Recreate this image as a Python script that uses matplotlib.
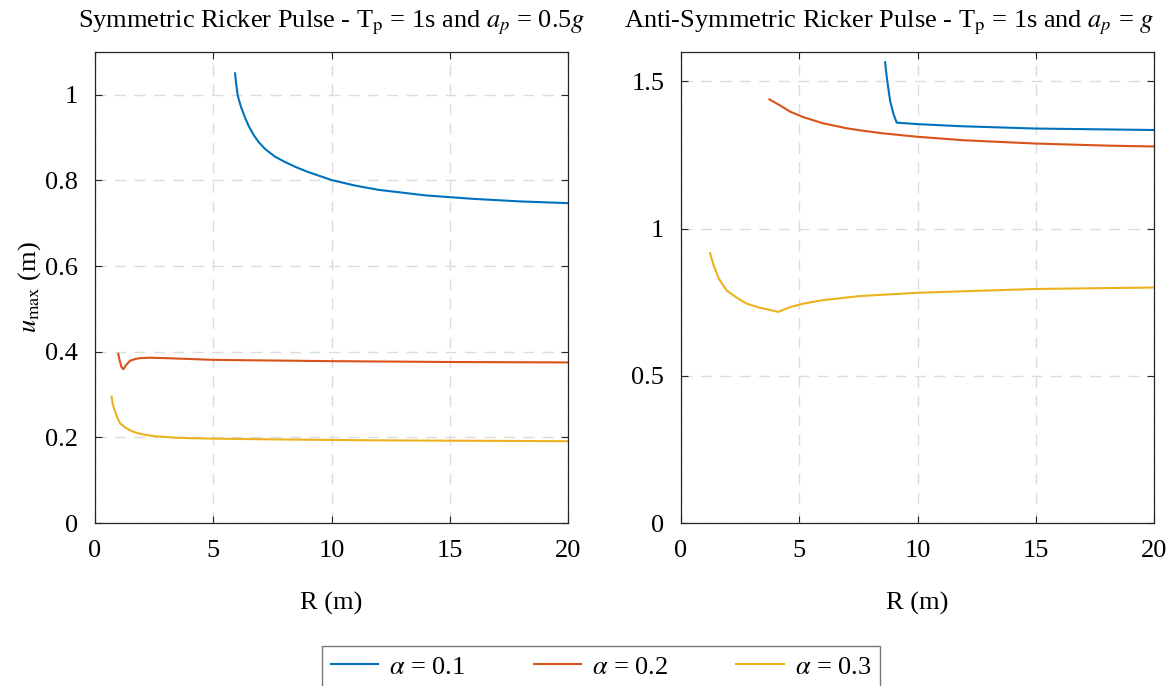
import matplotlib
matplotlib.use("Agg")
import matplotlib.pyplot as plt

plt.rcParams['font.family'] = ['Liberation Serif', 'DejaVu Serif']
plt.rcParams['mathtext.fontset'] = 'stix'

# ---- data ----
labels = [r'$\alpha$ = 0.1', r'$\alpha$ = 0.2', r'$\alpha$ = 0.3']
colors = ['#0072BD', '#D95319', '#EDB120']

# Left panel: symmetric pulse
sym_R1 = [5.92, 5.97, 6.03, 6.1, 6.2, 6.35, 6.5, 6.7, 6.9, 7.2, 7.6, 8.0, 8.5, 9.0, 10.0, 11.0, 12.0, 14.0, 16.0, 18.0, 20.0]
sym_u1 = [1.05, 1.025, 1.0, 0.985, 0.968, 0.946, 0.927, 0.907, 0.891, 0.873, 0.856, 0.844, 0.831, 0.82, 0.801, 0.788, 0.778, 0.765, 0.757, 0.751, 0.747]
sym_R2 = [0.985, 1.05, 1.12, 1.2, 1.3, 1.48, 1.7, 1.9, 2.3, 3.0, 5.0, 10.0, 15.0, 20.0]
sym_u2 = [0.395, 0.378, 0.364, 0.359, 0.368, 0.379, 0.383, 0.385, 0.386, 0.385, 0.381, 0.378, 0.376, 0.375]
sym_R3 = [0.7, 0.75, 0.85, 0.95, 1.06, 1.3, 1.62, 2.0, 2.47, 3.45, 5.0, 8.0, 12.0, 16.0, 20.0]
sym_u3 = [0.295, 0.278, 0.26, 0.245, 0.233, 0.222, 0.213, 0.207, 0.203, 0.199, 0.197, 0.195, 0.193, 0.192, 0.191]

# Right panel: anti-symmetric pulse
anti_R1 = [8.63, 8.7, 8.84, 8.98, 9.12, 10.0, 11.8, 15.0, 20.0]
anti_u1 = [1.565, 1.515, 1.435, 1.39, 1.36, 1.355, 1.348, 1.34, 1.335]
anti_R2 = [3.74, 4.2, 4.6, 5.16, 6.0, 7.0, 7.57, 8.5, 10.0, 12.0, 15.0, 18.0, 20.0]
anti_u2 = [1.439, 1.418, 1.398, 1.379, 1.358, 1.341, 1.334, 1.324, 1.312, 1.300, 1.289, 1.282, 1.279]
anti_R3 = [1.23, 1.36, 1.6, 1.93, 2.4, 2.78, 3.3, 3.7, 4.11, 4.6, 5.16, 6.0, 7.57, 10.0, 15.0, 20.0]
anti_u3 = [0.917, 0.88, 0.83, 0.79, 0.763, 0.745, 0.732, 0.725, 0.717, 0.733, 0.745, 0.757, 0.771, 0.782, 0.795, 0.80]

xticks = [0, 5, 10, 15, 20]
left_yticks = [0, 0.2, 0.4, 0.6, 0.8, 1.0]
left_yticklabels = ['0', '0.2', '0.4', '0.6', '0.8', '1']
right_yticks = [0, 0.5, 1.0, 1.5]
right_yticklabels = ['0', '0.5', '1', '1.5']

titles = [r'Symmetric Ricker Pulse - T$_{\mathrm{p}}$ = 1s and $a_p$ = 0.5$g$',
          r'Anti-Symmetric Ricker Pulse - T$_{\mathrm{p}}$ = 1s and $a_p$ = $g$']

fig = plt.figure(figsize=(11.75, 6.86), dpi=100)
axL = fig.add_axes([95/1175, 163/686, 473/1175, 471/686])
axR = fig.add_axes([681/1175, 163/686, 473/1175, 471/686])

FS = 19
spine_c = '#262626'

def style(ax, yticks, yticklabels, ylim):
    ax.set_xlim(0, 20)
    ax.set_ylim(*ylim)
    ax.set_xticks(xticks)
    ax.set_yticks(yticks)
    ax.set_yticklabels(yticklabels)
    ax.tick_params(direction='in', top=True, right=True, labelsize=FS,
                   length=5, width=0.8, color=spine_c, labelcolor='#000000', pad=12)
    for s in ax.spines.values():
        s.set_color(spine_c)
        s.set_linewidth(0.9)
    ax.grid(True, color='#dcdcdc', linestyle=(0, (8, 6)), linewidth=1.0)
    ax.set_axisbelow(True)
    ax.set_xlabel('R (m)', fontsize=FS, labelpad=22)

lines = []
for R, u, c, lab in zip([sym_R1, sym_R2, sym_R3], [sym_u1, sym_u2, sym_u3], colors, labels):
    l, = axL.plot(R, u, color=c, linewidth=1.5, label=lab)
    lines.append(l)
for R, u, c in zip([anti_R1, anti_R2, anti_R3], [anti_u1, anti_u2, anti_u3], colors):
    axR.plot(R, u, color=c, linewidth=1.5)

style(axL, left_yticks, left_yticklabels, (0, 1.1))
style(axR, right_yticks, right_yticklabels, (0, 1.6))
axL.set_title(titles[0], fontsize=FS, pad=18)
axR.set_title(titles[1], fontsize=FS, pad=18, loc='right')
axL.set_ylabel(r'$u_{\mathrm{max}}$ (m)', fontsize=FS, labelpad=2)

leg = fig.legend(handles=lines, labels=labels, loc='upper center',
                 bbox_to_anchor=(601/1175, 40/686), ncol=3, fontsize=FS,
                 frameon=True, fancybox=False, edgecolor='#555555',
                 handlelength=1.8, handletextpad=0.4, columnspacing=2.6,
                 borderpad=0.35, borderaxespad=0)
leg.get_frame().set_linewidth(1.0)

fig.savefig('out.png', dpi=100)
